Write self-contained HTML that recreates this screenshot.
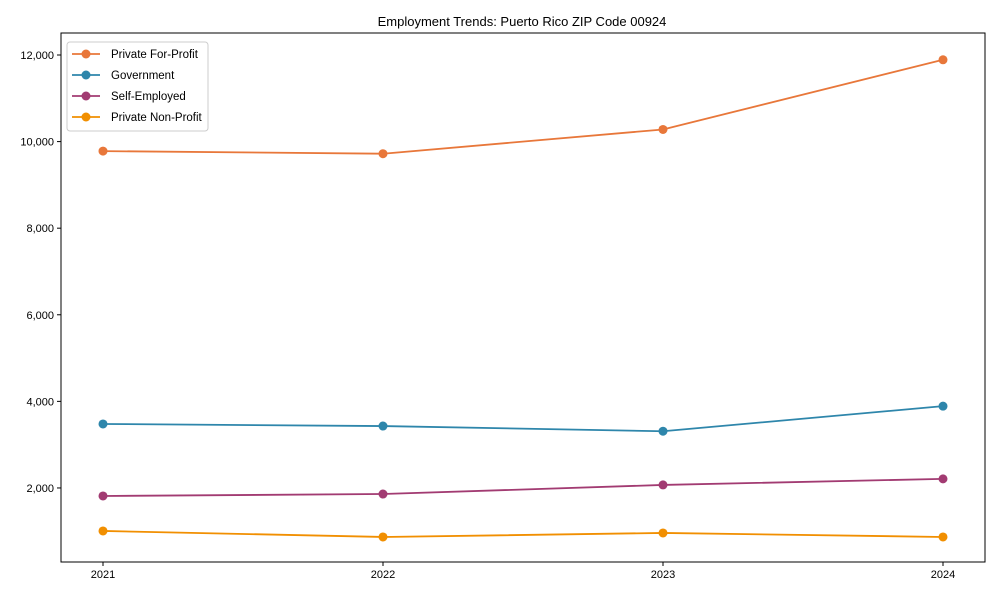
<!DOCTYPE html>
<html><head><meta charset="utf-8"><style>
body{margin:0;background:#fff;font-family:"Liberation Sans",Arial,sans-serif}
svg text{font-family:"Liberation Sans",Arial,sans-serif}
</style></head><body>
<svg id="chart" width="1000" height="600" xmlns="http://www.w3.org/2000/svg">
<rect width="1000" height="600" fill="#fff"/>
<text x="522" y="26" font-size="13" text-anchor="middle">Employment Trends: Puerto Rico ZIP Code 00924</text>
<g id="plot"></g>
</svg>
<script>
const years = [2021, 2022, 2023, 2024];
const yTicks = [2000, 4000, 6000, 8000, 10000, 12000];
const seriesNames = ["Private For-Profit", "Government", "Self-Employed", "Private Non-Profit"];
const seriesColors = ["#E8773A", "#2E86AB", "#A23B72", "#F18F01"];
const privateForProfit = [9780, 9720, 10280, 11890];
const government = [3478, 3430, 3310, 3890];
const selfEmployed = [1815, 1860, 2070, 2210];
const privateNonProfit = [1007, 868, 961, 868];
const allSeries = [privateForProfit, government, selfEmployed, privateNonProfit];

const L=61,R=985,T=33,B=562;
const yMin=290,yMax=12508;
const x = v => 103 + (v-2021)*(943-103)/3;
const y = v => B - (v-yMin)/(yMax-yMin)*(B-T);
const NS="http://www.w3.org/2000/svg";
const g=document.getElementById('plot');
function mk(t,a,p){const e=document.createElementNS(NS,t);for(const k in a)e.setAttribute(k,a[k]);(p||g).appendChild(e);return e;}

yTicks.forEach(v=>{
  const t=mk('line',{x1:L-4,x2:L,y1:y(v),y2:y(v),stroke:'#000'});
  
  
  const l=mk('text',{x:L-7,y:y(v)+4,'font-size':11,'text-anchor':'end'});
  l.textContent=v.toLocaleString('en-US');
  
  
});
years.forEach(v=>{
  const t=mk('line',{x1:x(v),x2:x(v),y1:B,y2:B+4,stroke:'#000'});
  
  
  const l=mk('text',{x:x(v),y:B+16,'font-size':11,'text-anchor':'middle'});
  l.textContent=v;
  
  
});
allSeries.forEach((s,i)=>{
  const p=mk('polyline',{points:s.map((v,j)=>x(years[j])+','+y(v)).join(' '),fill:'none',stroke:seriesColors[i],'stroke-width':1.8});
  
  
  s.forEach((v,j)=>{
    const c=mk('circle',{cx:x(years[j]),cy:y(v),r:4.5,fill:seriesColors[i]});
    
    
  });
});
const frame=mk('rect',{x:L,y:T,width:R-L,height:B-T,fill:'none',stroke:'#000','stroke-width':1});


const lg=mk('g',{});


mk('rect',{x:67,y:42,width:141,height:89,rx:3,fill:'#fff',stroke:'#ccc'},lg);
seriesNames.forEach((n,i)=>{
  const yy=54+i*21;
  const e=mk('g',{},lg);
  
  
  mk('line',{x1:72,x2:100,y1:yy,y2:yy,stroke:seriesColors[i],'stroke-width':1.8},e);
  mk('circle',{cx:86,cy:yy,r:4.5,fill:seriesColors[i]},e);
  const t=mk('text',{x:111,y:yy+4,'font-size':11.5},e);
  t.textContent=n;
});
</script>
</body></html>
